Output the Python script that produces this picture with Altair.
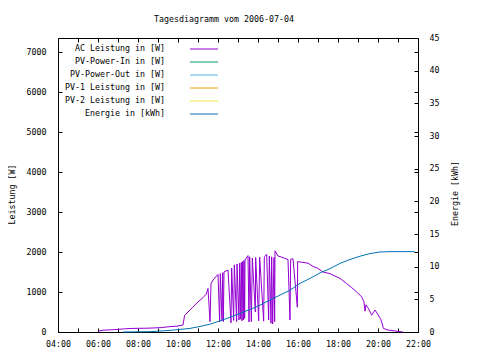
import altair as alt
import pandas as pd

TITLE = "Tagesdiagramm vom 2006-07-04"
SERIES = ["AC Leistung in [W]", "PV-Power-In in [W]", "PV-Power-Out in [W]",
          "PV-1 Leistung in [W]", "PV-2 Leistung in [W]", "Energie in [kWh]"]
COLORS = ["#9400d3", "#009e73", "#56b4e9", "#e69f00", "#f0e442", "#0072b2"]

AC_TIMES = ["06:00", "06:15", "06:40", "07:00", "07:20", "07:45", "08:30", "09:10", "09:30", "10:00",
            "10:15", "10:20", "10:30", "10:45", "11:00", "11:15", "11:25", "11:30", "11:36", "11:39",
            "11:45", "12:00", "12:05", "12:07", "12:12", "12:14", "12:16", "12:18", "12:30", "12:39",
            "12:41", "12:47", "12:49", "12:56", "12:57", "13:03", "13:05", "13:08", "13:10", "13:12",
            "13:14", "13:16", "13:18", "13:20", "13:21", "13:30", "13:33", "13:35", "13:40", "13:43",
            "13:52", "13:53", "14:02", "14:05", "14:17", "14:19", "14:26", "14:32", "14:34", "14:39",
            "14:41", "14:44", "14:48", "14:50", "14:51", "15:00", "15:15", "15:30", "15:36", "15:38",
            "15:45", "15:58", "15:59", "16:15", "16:30", "16:45", "17:00", "17:15", "17:36", "17:45",
            "18:06", "18:26", "18:41", "18:56", "19:11", "19:18", "19:21", "19:24", "19:31", "19:41",
            "19:51", "20:01", "20:08", "20:13", "20:16", "20:30", "20:51", "21:11", "21:15"]
AC_WATTS = [20, 45, 55, 65, 80, 90, 95, 110, 130, 150,
            175, 420, 500, 630, 750, 860, 950, 1090, 260, 1210,
            1300, 1440, 250, 1460, 280, 1480, 260, 1500, 1550, 230,
            1600, 290, 1680, 260, 1700, 300, 1720, 320, 1740, 280,
            1760, 300, 1790, 340, 1800, 1910, 250, 1880, 260, 1850,
            500, 1860, 280, 1870, 270, 1880, 1940, 300, 1900, 220,
            1880, 200, 1860, 260, 2030, 1900, 1860, 1810, 300, 1820,
            1830, 620, 1760, 1740, 1720, 1640, 1590, 1500, 1460, 1420,
            1340, 1210, 1110, 1000, 880, 750, 520, 680, 590, 420,
            550, 420, 320, 200, 90, 50, 25, 5, 0]

E_TIMES = ["07:15", "08:36", "09:06", "09:36", "10:06", "10:36", "11:06", "11:36", "12:06", "12:36",
           "13:06", "13:36", "14:06", "14:36", "15:06", "15:36", "16:06", "16:36", "17:06", "17:36",
           "18:06", "18:36", "19:06", "19:36", "20:06", "20:36", "21:06", "21:50"]
E_KWH = [0.0, 0.05, 0.15, 0.25, 0.4, 0.55, 0.85, 1.2, 1.7, 2.25,
         2.85, 3.45, 4.1, 4.9, 5.65, 6.4, 7.45, 8.2, 9.05, 9.7,
         10.5, 11.1, 11.6, 12.0, 12.25, 12.3, 12.3, 12.3]

X_TICKS = list(range(4, 23))
X_LABELS = ["04:00", "", "06:00", "", "08:00", "", "10:00", "", "12:00", "", "14:00", "",
            "16:00", "", "18:00", "", "20:00", "", "22:00"]
Y_LEFT_TICKS = [0, 1000, 2000, 3000, 4000, 5000, 6000, 7000]
Y_RIGHT_TICKS = [0, 5, 10, 15, 20, 25, 30, 35, 40, 45]
Y_LEFT_MAX = 7350
Y_RIGHT_MAX = 45

FONT = "DejaVu Sans Mono"
FS = 8.3


def hours(t):
    h, m = t.split(":")
    return int(h) + int(m) / 60


ac = pd.DataFrame({"h": [hours(t) for t in AC_TIMES], "v": AC_WATTS, "name": SERIES[0]})
en = pd.DataFrame({"h": [hours(t) for t in E_TIMES], "v": E_KWH, "name": SERIES[5]})
leg = pd.DataFrame({"name": SERIES, "rank": list(range(len(SERIES)))})

label_expr = "[" + ",".join("'%s'" % s for s in X_LABELS) + "][round(datum.value) - 4]"
xscale = alt.Scale(domain=[4, 22], nice=False, zero=False)
color = alt.Color("name:N", scale=alt.Scale(domain=SERIES, range=COLORS), legend=None)

common = dict(domain=False, grid=False, tickColor="black", tickSize=4, offset=-4,
              labelFont=FONT, labelFontSize=FS, labelColor="black",
              titleFont=FONT, titleFontSize=FS, titleColor="black", titleFontWeight="normal",
              labelFlush=False, labelOverlap=False)

x_bottom = alt.X("h:Q", scale=xscale, axis=alt.Axis(values=X_TICKS, labelExpr=label_expr, orient="bottom",
                                                     labelPadding=7, title=None, **common))
x_top = alt.X("h:Q", scale=xscale, axis=alt.Axis(values=X_TICKS, labels=False, orient="top",
                                                  title=None, **common))
x_none = alt.X("h:Q", scale=xscale, axis=None)

ac_line = alt.Chart(ac).mark_line(strokeWidth=1, interpolate="linear").encode(
    x=x_bottom,
    y=alt.Y("v:Q", scale=alt.Scale(domain=[0, Y_LEFT_MAX], nice=False),
            axis=alt.Axis(values=Y_LEFT_TICKS, orient="left", labelPadding=12, format="d",
                          title="Leistung [W]", titleX=-50, titleY=156, titleAngle=270,
                          titleBaseline="middle", titleAlign="center", **common)),
    color=color,
)

en_line = alt.Chart(en).mark_line(strokeWidth=1, interpolate="linear").encode(
    x=x_none,
    y=alt.Y("v:Q", scale=alt.Scale(domain=[0, Y_RIGHT_MAX], nice=False),
            axis=alt.Axis(values=Y_RIGHT_TICKS, orient="right", labelPadding=11, format="d",
                          title="Energie [kWh]", titleX=41, titleY=155, titleAngle=270,
                          titleBaseline="middle", titleAlign="center", **common)),
    color=color,
)

mirror = alt.Chart(ac).mark_line(strokeOpacity=0).encode(
    x=x_top,
    y=alt.Y("v:Q", scale=alt.Scale(domain=[0, Y_LEFT_MAX], nice=False),
            axis=alt.Axis(values=Y_LEFT_TICKS, orient="right", labels=False, title=None, **common)),
)

leg_y = alt.Y("rank:O", axis=None, scale=alt.Scale(type="point", range=[11, 76], padding=0))
leg_text = alt.Chart(leg).mark_text(align="right", baseline="middle", font=FONT, fontSize=FS,
                                     color="black").encode(
    x=alt.value(107), y=leg_y, text="name:N")
leg_rule = alt.Chart(leg).mark_rule(strokeWidth=1).encode(
    x=alt.value(132), x2=alt.value(160), y=leg_y, color=color)

chart = alt.layer(ac_line, en_line, mirror, leg_text, leg_rule).resolve_scale(
    y="independent"
).resolve_axis(
    x="independent", y="independent"
).properties(
    width=360, height=294,
    autosize=alt.AutoSizeParams(type="none"),
    padding={"left": 50, "top": 30, "right": 54, "bottom": 20},
    title=alt.TitleParams(TITLE, font=FONT, fontSize=FS, fontWeight="normal", color="black",
                          anchor="middle", dx=-14, dy=16, offset=17, baseline="bottom"),
).configure_view(stroke="black", strokeWidth=1)

chart.save("out.html", embed_options={"renderer": "svg", "actions": False})
